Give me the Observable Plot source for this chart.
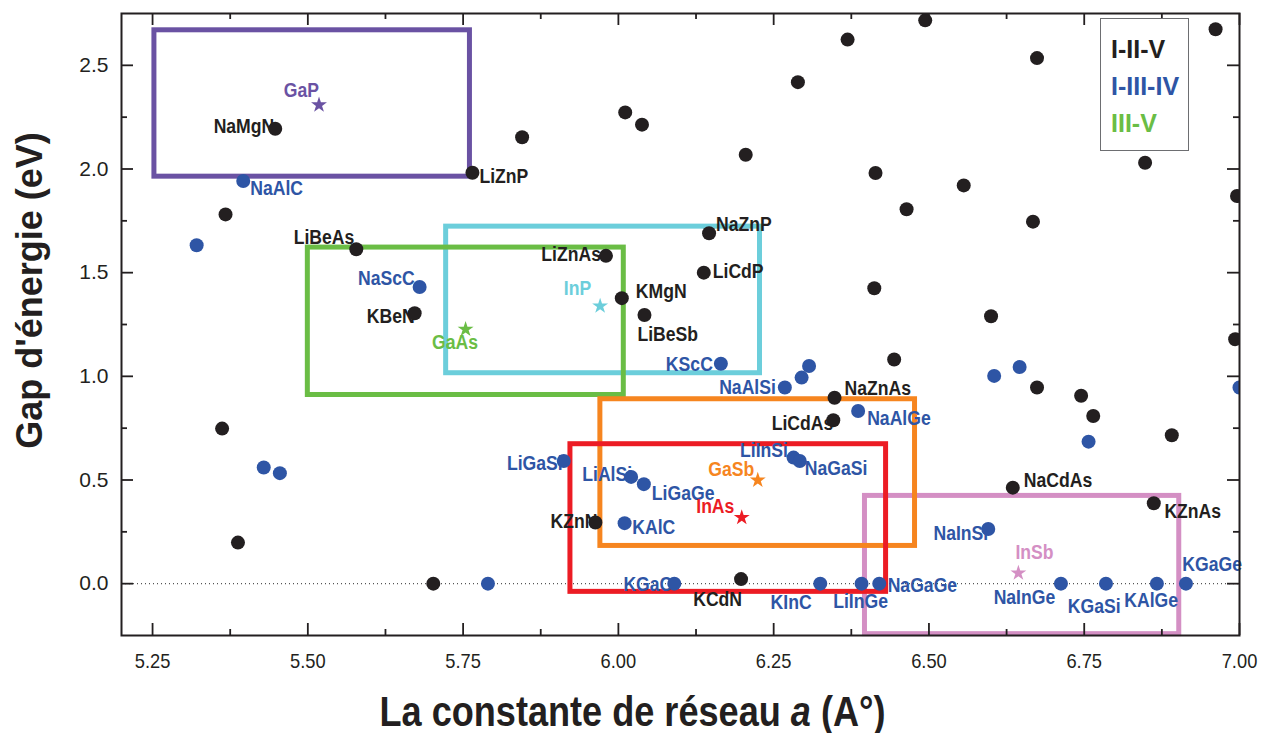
<!DOCTYPE html>
<html><head><meta charset="utf-8">
<script src="https://cdn.jsdelivr.net/npm/d3@7"></script>
<script src="https://cdn.jsdelivr.net/npm/@observablehq/plot@0.6"></script>
<style>
body{margin:0;background:#fff;}
#wrap{position:relative;width:1272px;height:733px;}
#legend{position:absolute;left:1100px;top:18px;width:89px;height:133px;border:1px solid #6d6e71;box-sizing:border-box;padding:12px 0 0 10px;font:bold 25px "Liberation Sans",Arial,sans-serif;line-height:37px;background:#fff;z-index:2;}
</style></head><body>
<div id="wrap"></div>
<script>
// ---- data: I-II-V compounds ----
const iiVNames = ["NaMgN","LiZnP","","","LiBeAs","KBeN","","","","","","","","","","","NaZnP","LiZnAs","LiCdP","KMgN","LiBeSb","","","","","","","","","","","NaZnAs","LiCdAs","KZnN","KCdN","","","","","","NaCdAs","KZnAs"];
const iiVLattice = [5.4475,5.765,5.845,5.3675,5.578,5.672,5.362,5.3875,5.702,6.011,6.038,6.205,6.289,6.369,6.414,6.464,6.146,5.980,6.1375,6.0055,6.042,6.412,6.494,6.674,6.9615,6.556,6.848,6.6675,6.996,6.600,6.444,6.348,6.346,5.963,6.1975,6.674,6.745,6.7645,6.891,6.993,6.635,6.862];
const iiVGap = [2.194,1.982,2.153,1.781,1.613,1.304,0.748,0.198,0.0,2.273,2.214,2.069,2.419,2.624,1.981,1.806,1.690,1.581,1.500,1.377,1.296,1.425,2.717,2.535,2.674,1.921,2.030,1.746,1.870,1.290,1.081,0.897,0.788,0.295,0.022,0.946,0.906,0.809,0.716,1.179,0.463,0.388];
// ---- data: I-III-IV compounds ----
const iiiIVNames = ["NaAlC","","NaScC","","","","KScC","","","NaAlSi","NaAlGe","LiInSi","NaGaSi","LiGaSi","LiAlSi","LiGaGe","KAlC","KGaC","KInC","LiInGe","NaGaGe","","","","","NaInSi","NaInGe","KGaSi","KAlGe","KGaGe"];
const iiiIVLattice = [5.396,5.321,5.680,5.429,5.455,5.790,6.165,6.307,6.295,6.268,6.386,6.282,6.292,5.912,6.0205,6.041,6.010,6.090,6.325,6.3915,6.420,6.605,6.646,6.757,7.0,6.5955,6.7125,6.785,6.867,6.9138];
const iiiIVGap = [1.942,1.632,1.431,0.560,0.533,0.0,1.061,1.050,0.994,0.946,0.833,0.608,0.592,0.592,0.515,0.480,0.292,0.0,0.0,0.0,0.0,1.002,1.045,0.685,0.946,0.264,0.0,0.0,0.0,0.0];
// ---- data: III-V binaries and their boxes ----
const binNames = ["InP","GaAs","GaP","InSb","GaSb","InAs"];
const binLattice = [5.9706,5.754,5.518,6.644,6.2244,6.1986];
const binGap = [1.339,1.227,2.309,0.051,0.499,0.319];
const boxLatticeMin = [5.7227,5.500,5.253,6.397,5.971,5.9228];
const boxLatticeMax = [6.228,6.0087,5.761,6.903,6.4776,6.431];
const boxGapMin = [1.015,0.910,1.963,-0.2435,0.182,-0.0395];
const boxGapMax = [1.722,1.621,2.669,0.4233,0.8895,0.6726];
// ---- ticks ----
const xMajor = [5.25,5.5,5.75,6.0,6.25,6.5,6.75,7.0];
const xMinor = [5.375,5.625,5.875,6.125,6.375,6.625,6.875];
const yMajor = [0,0.5,1.0,1.5,2.0,2.5];
const yMinor = [0.25,0.75,1.25,1.75,2.25];
const legendItems = ["I-II-V","I-III-IV","III-V"];
const xTitleParts = ["La constante de réseau ","a"," (A°)"];
const yTitle = "Gap d'énergie (eV)";

// ---- styles ----
const BLACK = "#231f20", BLUE = "#2e55a5";
const binColors = {InP:"#6ccedb",GaAs:"#6abd45",GaP:"#6a52a3",InSb:"#d48fc4",GaSb:"#f6851f",InAs:"#ec1c24"};
const legendColors = [BLACK, BLUE, "#6abd45"];
const labelPlace = {
  NaMgN:["end",-1,-2], LiZnP:["start",7,4], LiBeAs:["end",-2,-12], KBeN:["end",0,3],
  NaZnP:["start",7,-9], LiZnAs:["end",-5,-1], LiCdP:["start",9,-1], KMgN:["start",14,-6.5],
  LiBeSb:["start",-7,20], NaZnAs:["start",10,-9], LiCdAs:["end",0,3], KZnN:["end",2,-1],
  KCdN:["end",1,20], NaCdAs:["start",11,-7], KZnAs:["start",10.6,8.4],
  NaAlC:["start",7,8], NaScC:["end",-5,-8], KScC:["end",-8,1], NaAlSi:["end",-9,0],
  NaAlGe:["start",9,8], LiInSi:["end",-5.6,-7], NaGaSi:["start",5,7.5], LiGaSi:["end",-1,3],
  LiAlSi:["end",1,-2], LiGaGe:["start",8,9], KAlC:["start",7.7,4], KGaC:["end",-2,1],
  KInC:["end",-8.6,19], LiInGe:["middle",-1,17.5], NaGaGe:["start",8.4,2], NaInSi:["end",0,4.5],
  NaInGe:["end",-5.7,13.7], KGaSi:["middle",-11.7,23.4], KAlGe:["middle",-5.7,16.7], KGaGe:["start",-3.7,-19],
  GaP:["end",0,-14], InP:["end",-9,-17], GaAs:["middle",-10.6,13], GaSb:["end",-3.4,-10.5],
  InAs:["end",-7.4,-11], InSb:["start",-3,-20]
};

const W = 1272, H = 733, mL = 121, mR = 33, mT = 13, mB = 98;
const plotH = H - mT - mB, plotW = W - mL - mR;

const iiV = iiVNames.map((n,i)=>({name:n, a:iiVLattice[i], gap:iiVGap[i], color:BLACK}));
const iiiIV = iiiIVNames.map((n,i)=>({name:n, a:iiiIVLattice[i], gap:iiiIVGap[i], color:BLUE}));
const bins = binNames.map((n,i)=>({name:n, a:binLattice[i], gap:binGap[i], color:binColors[n],
  x1:boxLatticeMin[i], x2:boxLatticeMax[i], y1:boxGapMin[i], y2:boxGapMax[i]}));

const labelled = [...iiV, ...iiiIV, ...bins].filter(d => d.name);
const labelSet = new Set(labelled.map(d => d.name));
const labelMarks = labelled.map(d => {
  const [anchor, dx, dy] = labelPlace[d.name];
  return Plot.text([d], {x:"a", y:"gap", text:"name", textAnchor:anchor, dx, dy,
    lineAnchor:"middle", fill:d.color, fontSize:20, fontWeight:"bold"});
});

const chart = Plot.plot({
  width: W, height: H,
  marginLeft: mL, marginRight: mR, marginTop: mT, marginBottom: mB,
  x: {domain:[5.2,7.0]},
  y: {domain:[-0.25,2.75]},
  style: {fontFamily:"'Liberation Sans', Arial, Helvetica, sans-serif", background:"#fff", color:BLACK, overflow:"visible"},
  marks: [
    Plot.ruleY([0], {y:d=>d, stroke:"#555", strokeWidth:1.2, strokeDasharray:"1,3"}),
    ...bins.map(b => Plot.rect([b], {x1:"x1", x2:"x2", y1:"y1", y2:"y2", fill:"none", stroke:b.color, strokeWidth:5})),
    ...labelMarks,
    Plot.dot(iiV, {x:"a", y:"gap", r:7, fill:BLACK, clip:true}),
    Plot.dot(iiiIV, {x:"a", y:"gap", r:7, fill:BLUE, clip:true}),
    ...bins.map(b => Plot.dot([b], {x:"a", y:"gap", symbol:"star", r:5, fill:b.color})),
    // ticks (inward, mirrored)
    Plot.ruleX(xMajor, {x:d=>d, insetTop:plotH-12, stroke:BLACK, strokeWidth:1.8}),
    Plot.ruleX(xMajor, {x:d=>d, insetBottom:plotH-12, stroke:BLACK, strokeWidth:1.8}),
    Plot.ruleX(xMinor, {x:d=>d, insetTop:plotH-6, stroke:BLACK, strokeWidth:1.8}),
    Plot.ruleX(xMinor, {x:d=>d, insetBottom:plotH-6, stroke:BLACK, strokeWidth:1.8}),
    Plot.ruleY(yMajor, {y:d=>d, insetRight:plotW-12, stroke:BLACK, strokeWidth:1.8}),
    Plot.ruleY(yMajor, {y:d=>d, insetLeft:plotW-12, stroke:BLACK, strokeWidth:1.8}),
    Plot.ruleY(yMinor, {y:d=>d, insetRight:plotW-6, stroke:BLACK, strokeWidth:1.8}),
    Plot.ruleY(yMinor, {y:d=>d, insetLeft:plotW-6, stroke:BLACK, strokeWidth:1.8}),
    Plot.frame({stroke:BLACK, strokeWidth:2}),
    Plot.axisX(xMajor, {tickSize:0, tickPadding:18, fontSize:21, tickFormat:d=>d.toFixed(2), label:null, fill:BLACK}),
    Plot.axisY(yMajor, {tickSize:0, tickPadding:13, fontSize:21, tickFormat:d=>d.toFixed(1), label:null, fill:BLACK}),
    Plot.text([xTitleParts.join("")], {text:d=>d, frameAnchor:"bottom", lineAnchor:"bottom", textAnchor:"middle", dy:90, dx:-48,
      fontSize:42, fontWeight:"bold", fill:BLACK}),
    Plot.text([yTitle], {text:d=>d, frameAnchor:"left", lineAnchor:"bottom", textAnchor:"middle", rotate:-90, dx:-80, dy:-34,
      fontSize:36, fontWeight:"bold", fill:BLACK})
  ]
});

const wrap = document.getElementById("wrap");
wrap.appendChild(chart);
const legend = document.createElement("div");
legend.id = "legend";
legendItems.forEach((t,i) => {
  const d = document.createElement("div");
  d.textContent = t; d.style.color = legendColors[i];
  legend.appendChild(d);
});
wrap.appendChild(legend);

const svg = d3.select(chart);
const allText = svg.selectAll("text");
// x-title with italic "a", condensed horizontally with a transform
const xt = allText.filter(function(){ return this.textContent === xTitleParts.join(""); });
xt.text(null);
xTitleParts.forEach((p,i) => {
  const ts = xt.append("tspan").text(p);
  if (i === 1) ts.style("font-style","italic");
});
xt.each(function() {
  const bb = this.getBBox();
  const cx = bb.x + bb.width / 2;
  const t = this.getAttribute("transform") || "";
  this.setAttribute("transform", `${t} translate(${cx},0) scale(0.86,1) translate(${-cx},0)`);
});

function condense(sel, f) {
  sel.each(function() {
    const w = this.getComputedTextLength();
    this.setAttribute("textLength", (w*f).toFixed(1));
    this.setAttribute("lengthAdjust", "spacingAndGlyphs");
  });
}
const tickStrings = new Set(xMajor.map(d => d.toFixed(2)));
condense(allText.filter(function(){ return labelSet.has(this.textContent); }), 0.88);
condense(allText.filter(function(){ return tickStrings.has(this.textContent); }), 0.87);
</script></body></html>
